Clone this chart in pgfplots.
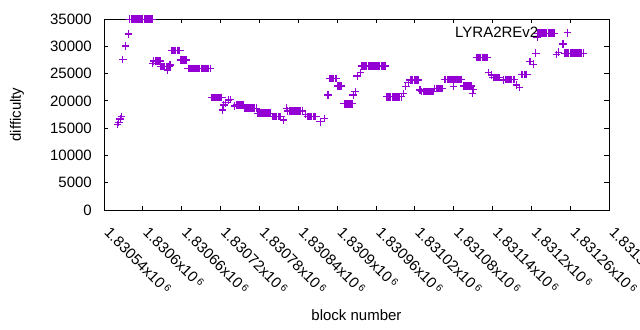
\documentclass[border=0pt]{standalone}
\usepackage{pgfplots}
\pgfplotsset{compat=1.18}
\usepackage{fontspec}
\setmainfont{Liberation Sans}
\definecolor{gpviolet}{RGB}{148,0,211}
\newcommand{\tl}[1]{#1x10\,\raisebox{0.45ex}{\fontsize{10bp}{10bp}\selectfont 6}}
\begin{document}
\begin{tikzpicture}[font=\fontsize{15bp}{18bp}\selectfont]
\useasboundingbox (-104bp,-120bp) rectangle (536bp,210bp);
\begin{axis}[
  at={(0,0)}, anchor=south west,
  scale only axis, width=505bp, height=191bp,
  xmin=0, xmax=780, ymin=0, ymax=35000,
  clip=false,
  axis line style={black, line width=0.9bp},
  tick style={black, line width=0.8bp},
  major tick length=4.5bp,
  tick align=inside,
  xtick={0,60,120,180,240,300,360,420,480,540,600,660,720,780},
  xticklabels={\tl{1.83054},\tl{1.8306},\tl{1.83066},\tl{1.83072},\tl{1.83078},\tl{1.83084},\tl{1.8309},\tl{1.83096},\tl{1.83102},\tl{1.83108},\tl{1.83114},\tl{1.8312},\tl{1.83126},\tl{1.83132}},
  xticklabel style={xshift=7bp, yshift=-16bp, rotate=-45, anchor=north west, inner sep=0pt},
  ytick={0,5000,10000,15000,20000,25000,30000,35000},
  yticklabel style={anchor=east, xshift=-12bp, inner sep=0pt},
  /pgf/number format/assume math mode=true,
  /pgf/number format/set thousands separator={},
  scaled y ticks=false,
  xlabel={block number},
  ylabel={difficulty},
  xlabel style={at={(axis description cs:0.5,-0.5497)}, anchor=center},
  ylabel style={at={(axis description cs:-0.1723,0.5)}, anchor=center, rotate=0},
  legend plot pos=right,
  legend style={draw=none, fill=none, at={(axis description cs:0.9257,0.928)}, anchor=east, inner sep=0pt, cells={anchor=east}},
  legend image code/.code={\path (0bp,0bp); \draw[#1] plot coordinates {(27bp,0bp)};},
]
\addplot[only marks, mark=+, mark size=3.8bp, color=gpviolet, mark options={line width=1.2bp}] coordinates {
(21,15700)(23,16070)(25,16680)(27,17100)(29,27600)(33,30050)(38,32250)
(40,34950)(42,34950)(44,34950)(46,34950)(48,34950)(50,34950)(52,34950)(54,34950)(56,34950)(58,34950)(60,34950)(62,34950)(64,34950)(66,34950)(68,34950)(70,34950)(72,34950)(74,34950)
(75,26880)(77,27300)(79,27300)(81,27300)(83,27300)(85,27300)(87,27300)
(88,26260)(90,26260)(92,26260)(94,26260)(96,26260)(98,26260)(100,26260)(98,25650)(102,26570)
(105,29260)(107,29260)(109,29260)(111,29260)(113,29260)(115,29260)(117,29260)
(119,27490)(121,27490)(123,27490)(125,27490)(127,27490)
(130,25960)(132,25960)(134,25960)(136,25960)(138,25960)(140,25960)(142,25960)(144,25960)(146,25960)(148,25960)(150,25960)(152,25960)(154,25960)(156,25960)(158,25960)(160,25960)(162,25960)(164,25960)
(166,20650)(168,20650)(170,20650)(172,20650)(174,20650)(176,20650)(178,20650)(180,20650)(182,20650)
(183,18330)(185,19240)(188,19660)(192,20150)(195,20280)
(202,19060)(205,19240)(207,19240)(209,19240)(211,19240)(213,19240)(215,19240)
(217,18640)(219,18640)(221,18640)(223,18640)(225,18640)(227,18640)(229,18640)(231,18640)(233,18640)(235,18640)
(237,17720)(239,17720)(241,17720)(243,17720)(245,17720)(247,17720)(249,17720)(251,17720)(253,17720)(255,17720)(257,17720)
(261,17100)(263,17100)(265,17100)(267,17100)(269,17100)(271,17100)(273,17100)
(277,16490)(282,18640)
(284,18140)(286,18140)(288,18140)(290,18140)(292,18140)(294,18140)(296,18140)(298,18140)(300,18140)(302,18140)(304,18140)(306,18140)
(311,17540)(315,17100)(317,17100)(319,17100)(321,17100)(323,17100)(325,17100)(327,17100)
(334,16180)(340,16800)(346,21070)
(349,24130)(351,24130)(353,24130)(355,24130)(357,24130)(359,24130)
(361,22720)(363,22720)(365,22720)(367,22720)
(371,19450)(373,19450)(375,19450)(377,19450)(379,19450)(381,19450)(383,19450)
(385,21070)(388,21680)(391,24560)(396,25160)
(398,26390)(400,26390)(402,26390)(404,26390)(406,26390)(408,26390)(410,26390)(412,26390)(414,26390)(416,26390)(418,26390)(420,26390)(422,26390)(424,26390)(426,26390)(428,26390)(430,26390)(432,26390)(434,26390)
(437,20760)(439,20760)(441,20760)(443,20760)(445,20760)(447,20760)(449,20760)(451,20760)(453,20760)(455,20760)(457,20760)(459,20760)
(462,21380)(466,22600)(470,23330)
(473,23820)(475,23820)(477,23820)(479,23820)(481,23820)(483,23820)(485,23820)
(488,22000)(491,21680)(493,21680)(495,21680)(497,21680)(499,21680)(501,21680)(503,21680)(505,21680)(507,21680)(509,21680)
(511,22300)(513,22300)(515,22300)(517,22300)(519,22300)(521,22300)(523,22300)
(526,23950)(528,23950)(530,23950)(532,23950)(534,23950)(536,23950)(538,23950)(540,23950)(542,23950)(544,23950)(546,23950)(548,23950)(550,23950)(552,23950)(540,22600)
(555,22720)(557,22720)(559,22720)(561,22720)(563,22720)(565,22720)(567,22720)(570,22120)(569,21380)
(576,27980)(578,27980)(580,27980)(582,27980)(584,27980)(586,27980)(588,27980)(590,27980)(592,27980)
(594,25160)(599,24740)
(601,24310)(603,24310)(605,24310)(607,24310)(609,24310)(611,24310)
(617,23820)(620,23950)(622,23950)(624,23950)(626,23950)(628,23950)(630,23950)(632,23950)(634,23950)
(637,22900)(642,22420)
(645,24860)(647,24860)(649,24860)(651,24860)(653,24860)
(658,27180)(663,26700)(667,28720)(669,31650)
(670,32380)(672,32380)(674,32380)(676,32380)(678,32380)(680,32380)(682,32380)(684,32380)(686,32380)(688,32380)(690,32380)(692,32380)(694,32380)(696,32380)
(699,28530)(702,28900)(709,30420)
(712,28720)(714,28720)(716,28720)(718,28720)(720,28720)(722,28720)(724,28720)(726,28720)(728,28720)(730,28720)(732,28720)(734,28720)(736,28720)(738,28720)(740,28720)
};
\addlegendentry{LYRA2REv2}
\end{axis}
\end{tikzpicture}
\end{document}
